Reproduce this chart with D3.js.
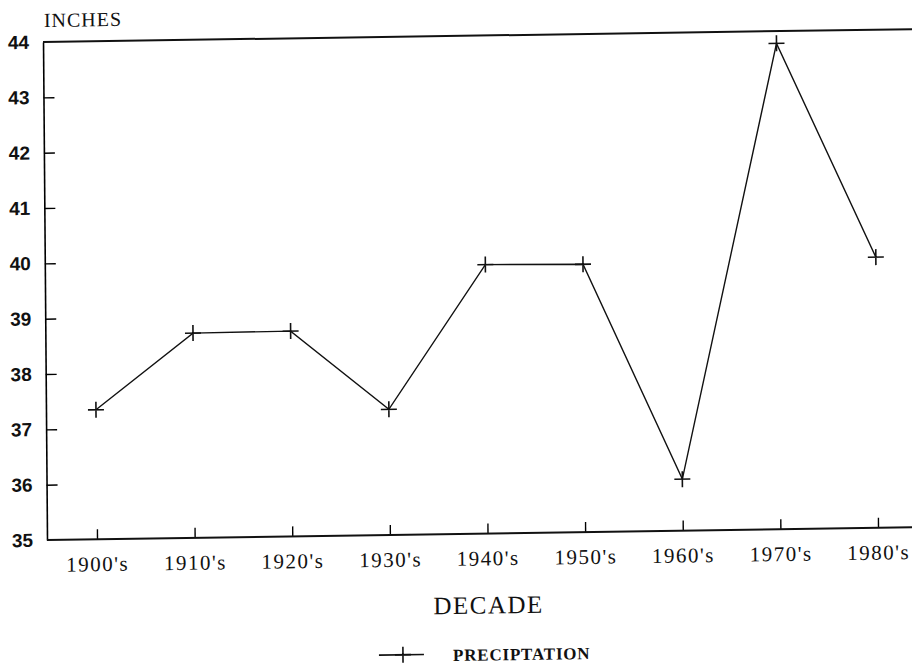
<meta charset="utf-8" />
<style>
	body { margin: 0; background: #fff; }
</style>
<svg width="912" height="671"></svg>
<script src="https://cdn.jsdelivr.net/npm/d3@7"></script>
<script>
	// precipitation by decade, inches
	var decades = ["1900's", "1910's", "1920's", "1930's", "1940's", "1950's", "1960's", "1970's", "1980's"];
	var precipitation = [37.34, 38.7, 38.71, 37.27, 39.86, 39.84, 35.93, 43.78, 39.89];
	var yTicks = [35, 36, 37, 38, 39, 40, 41, 42, 43, 44];

	var svg = d3.select('svg'),
		marginLeft = 47,
		marginTop = 42,
		width = 880,
		height = 498;

	// the scanned page is slightly skewed
	var page = svg
		.append('g')
		.attr('transform', 'translate(48,540) matrix(1,-0.0148,0.008,1,0,0) translate(-48,-540)');

	var g = page.append('g').attr('transform', 'translate(' + marginLeft + ',' + marginTop + ')');

	var x = d3.scalePoint().domain(decades).range([50, 831]);
	var y = d3.scaleLinear().domain([35, 44]).range([height, 0]);

	var yAxis = g
		.append('g')
		.call(d3.axisLeft(y).tickValues(yTicks).tickFormat(d3.format('d')).tickSize(-11).tickPadding(14).tickSizeOuter(0));
	yAxis.select('.domain').attr('stroke-width', 1.6);
	yAxis.selectAll('.tick line').attr('stroke-width', 1.4);
	yAxis
		.selectAll('.tick text')
		.style('font-family', '"Liberation Sans", Arial, sans-serif')
		.style('font-size', '19px')
		.style('font-weight', 'bold')
		.attr('fill', '#111');
	yAxis.selectAll('.tick').filter(d => d === 35 || d === 44).select('line').remove();

	var xAxis = g
		.append('g')
		.attr('transform', 'translate(0,' + height + ')')
		.call(d3.axisBottom(x).tickSize(-10).tickPadding(17).tickSizeOuter(0));
	xAxis.select('.domain').remove();
	xAxis.selectAll('.tick line').attr('stroke-width', 1.4);
	xAxis
		.selectAll('.tick text')
		.style('font-family', '"Liberation Serif", "DejaVu Serif", serif')
		.style('font-size', '21px')
		.style('letter-spacing', '1.5px')
		.attr('fill', '#111');

	// top and bottom frame lines
	g.append('line')
		.attr('x1', 0)
		.attr('x2', width)
		.attr('y1', y(44))
		.attr('y2', y(44))
		.attr('stroke', '#111')
		.attr('stroke-width', 2);
	g.append('line')
		.attr('x1', 0)
		.attr('x2', width)
		.attr('y1', y(35))
		.attr('y2', y(35))
		.attr('stroke', '#111')
		.attr('stroke-width', 2);

	var line = d3
		.line()
		.x((d, i) => x(decades[i]))
		.y(d => y(d));

	g.append('path')
		.datum(precipitation)
		.attr('fill', 'none')
		.attr('stroke', '#111')
		.attr('stroke-width', 1.4)
		.attr('d', line);

	var cross = 'M-8,0H8M0,-8V8';
	g.selectAll('.mark')
		.data(precipitation)
		.enter()
		.append('path')
		.attr('class', 'mark')
		.attr('transform', (d, i) => 'translate(' + x(decades[i]) + ',' + y(d) + ')')
		.attr('d', cross)
		.attr('stroke', '#111')
		.attr('stroke-width', 1.6);

	page.append('text')
		.attr('x', 48)
		.attr('y', 27)
		.text('INCHES')
		.style('font-family', '"Liberation Serif", serif')
		.style('font-size', '20px')
		.style('letter-spacing', '1px')
		.attr('fill', '#111');

	page.append('text')
		.attr('x', 488)
		.attr('y', 620)
		.attr('text-anchor', 'middle')
		.text('DECADE')
		.style('font-family', '"Liberation Serif", serif')
		.style('font-size', '25px')
		.style('letter-spacing', '1.5px')
		.attr('fill', '#111');

	// legend
	var legend = page.append('g').attr('transform', 'translate(378,660)');
	legend
		.append('line')
		.attr('x1', 0)
		.attr('x2', 45)
		.attr('stroke', '#111')
		.attr('stroke-width', 1.6);
	legend
		.append('path')
		.attr('transform', 'translate(24,0)')
		.attr('d', cross)
		.attr('stroke', '#111')
		.attr('stroke-width', 1.6);
	legend
		.append('text')
		.attr('x', 74)
		.attr('y', 7)
		.text('PRECIPTATION')
		.style('font-family', '"Liberation Serif", serif')
		.style('font-size', '17px')
		.style('font-weight', 'bold')
		.style('letter-spacing', '0.8px')
		.attr('fill', '#111');
</script>
